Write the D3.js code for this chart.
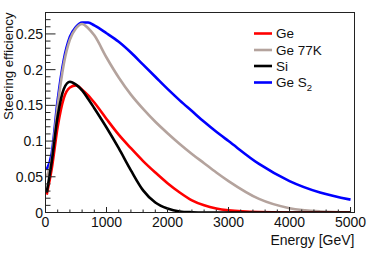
<!DOCTYPE html>
<html>
<head>
<meta charset="utf-8">
<script src="https://cdn.jsdelivr.net/npm/d3@7"></script>
<style>
  html, body { margin: 0; padding: 0; background: #fff; }
  svg { display: block; font-family: "Liberation Sans", Arial, sans-serif; }
</style>
</head>
<body>
<svg id="chart" width="374" height="254"></svg>
<script>
// ---- data ----
const energy = [20, 100, 200, 300, 400, 500, 600, 700, 800, 1000, 1200, 1400, 1600, 1800, 2000, 2200, 2400, 2600, 2800, 3000, 3500, 4000, 4500, 5000];
const geS2  = [0.060, 0.082, 0.158, 0.214, 0.246, 0.260, 0.266, 0.266, 0.262, 0.251, 0.239, 0.224, 0.207, 0.190, 0.173, 0.157, 0.142, 0.127, 0.113, 0.100, 0.068, 0.044, 0.028, 0.018];
const ge77K = [0.050, 0.074, 0.150, 0.208, 0.242, 0.258, 0.264, 0.258, 0.248, 0.217, 0.189, 0.165, 0.145, 0.127, 0.111, 0.096, 0.082, 0.069, 0.056, 0.044, 0.019, 0.006, 0.0015, 0.0003];
const ge    = [0.025, 0.060, 0.120, 0.160, 0.175, 0.178, 0.172, 0.164, 0.154, 0.131, 0.109, 0.090, 0.072, 0.056, 0.041, 0.028, 0.017, 0.010, 0.0055, 0.003, 0.0006, 0.0001, 0, 0];
const si    = [0.028, 0.070, 0.135, 0.173, 0.183, 0.179, 0.171, 0.159, 0.146, 0.119, 0.090, 0.059, 0.031, 0.014, 0.0055, 0.0015, 0.0004, 0, 0, 0, 0, 0, 0, 0];

const seriesNames  = ["Ge", "Ge 77K", "Si", "Ge S2"];
const seriesValues = [ge, ge77K, si, geS2];
const seriesColors = ["#ff0000", "#b4a39d", "#000000", "#0000ff"];

const xTicks = [0, 1000, 2000, 3000, 4000, 5000];
const yTicks = [0, 0.05, 0.1, 0.15, 0.2, 0.25];
const xTitle = "Energy [GeV]";
const yTitle = "Steering efficiency";

// ---- layout ----
const L = 45.5, R = 354.5, T = 12.5, B = 212.5;
const svg = d3.select("#chart");

const x = d3.scaleLinear().domain([0, 5065]).range([L, R]);
const y = d3.scaleLinear().domain([0, 0.28]).range([B, T]);

svg.append("defs").append("clipPath").attr("id", "clip")
  .append("rect").attr("x", L).attr("y", T).attr("width", R - L).attr("height", B - T);

const line = d3.line()
  .x((d, i) => x(energy[i]))
  .y(d => y(d))
  .curve(d3.curveMonotoneX);

const plot = svg.append("g").attr("clip-path", "url(#clip)");
[3, 1, 0, 2].forEach(k => {
  plot.append("path")
    .attr("d", line(seriesValues[k]))
    .attr("fill", "none")
    .attr("stroke", seriesColors[k])
    .attr("stroke-width", 2.6)
    .attr("stroke-linejoin", "round");
});

// frame
svg.append("rect").attr("x", L).attr("y", T).attr("width", R - L).attr("height", B - T)
  .attr("fill", "none").attr("stroke", "#222").attr("stroke-width", 1);

// x ticks
const xMinor = d3.range(0, 5066, 200);
const gx = svg.append("g");
gx.selectAll("line").data(xMinor).enter().append("line")
  .attr("x1", d => x(d)).attr("x2", d => x(d))
  .attr("y1", B).attr("y2", d => B - (d % 1000 === 0 ? 5.5 : 3))
  .attr("stroke", "#222").attr("stroke-width", 1);
gx.selectAll("text").data(xTicks).enter().append("text")
  .attr("x", d => x(d)).attr("y", 227)
  .attr("text-anchor", "middle").attr("font-size", 14).attr("fill", "#111")
  .text(d => d3.format("d")(d));

// y ticks
const yMinor = d3.range(0, 0.2801, 0.01);
const gy = svg.append("g");
gy.selectAll("line").data(yMinor).enter().append("line")
  .attr("x1", L).attr("x2", (d, i) => L + (i % 5 === 0 ? 10 : 5))
  .attr("y1", d => y(d)).attr("y2", d => y(d))
  .attr("stroke", "#222").attr("stroke-width", 1);
gy.selectAll("text").data(yTicks).enter().append("text")
  .attr("x", 43).attr("y", d => y(d)).attr("dy", "0.36em")
  .attr("text-anchor", "end").attr("font-size", 14).attr("fill", "#111")
  .text(d => d === 0 ? "0" : d3.format("")(d));

// axis titles
svg.append("text").attr("x", R).attr("y", 245)
  .attr("text-anchor", "end").attr("font-size", 14).attr("fill", "#111")
  .text(xTitle);
svg.append("text")
  .attr("transform", `translate(13,${T}) rotate(-90)`)
  .attr("text-anchor", "end").attr("font-size", 13.2).attr("fill", "#111")
  .text(yTitle);

// legend
const legY = [33.5, 50, 66, 82.5];
const leg = svg.append("g");
seriesNames.forEach((name, i) => {
  leg.append("line")
    .attr("x1", 254).attr("x2", 272)
    .attr("y1", legY[i]).attr("y2", legY[i])
    .attr("stroke", seriesColors[i]).attr("stroke-width", 2.6);
  const t = leg.append("text")
    .attr("x", 276).attr("y", legY[i]).attr("dy", "0.36em")
    .attr("font-size", 13.5).attr("fill", "#111");
  if (name === "Ge S2") {
    t.append("tspan").text("Ge S");
    t.append("tspan").attr("font-size", 9.5).attr("dy", 4).text("2");
  } else {
    t.text(name);
  }
});
</script>
</body>
</html>
